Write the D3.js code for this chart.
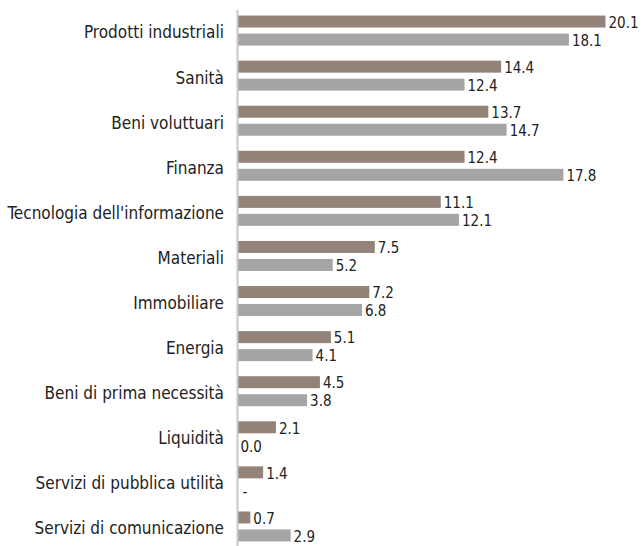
<!DOCTYPE html>
<html>
<head>
<meta charset="utf-8">
<script src="https://cdn.jsdelivr.net/npm/d3@7"></script>
<style>
  body { margin: 0; background: #fff; }
  svg text { font-family: "Liberation Sans Narrow", "DejaVu Sans Condensed", sans-serif; fill: #222; }
</style>
</head>
<body>
<div id="chart"></div>
<script>
const categories = [
    'Prodotti industriali', 'Sanità', 'Beni voluttuari', 'Finanza',
    "Tecnologia dell'informazione", 'Materiali', 'Immobiliare', 'Energia',
    'Beni di prima necessità', 'Liquidità', 'Servizi di pubblica utilità',
    'Servizi di comunicazione'
];
const seriesA = [20.1, 14.4, 13.7, 12.4, 11.1, 7.5, 7.2, 5.1, 4.5, 2.1, 1.4, 0.7];
const seriesB = [18.1, 12.4, 14.7, 17.8, 12.1, 5.2, 6.8, 4.1, 3.8, 0.0, null, 2.9];
const seriesKeys = ['a', 'b'];
const colors = { a: '#938378', b: '#a5a5a5' };

const width = 643, height = 546;
const margin = { top: 8, right: 20, bottom: 0, left: 237.5 };
const data = categories.map((c, i) => ({ cat: c, a: seriesA[i], b: seriesB[i] }));

const svg = d3.select('#chart').append('svg')
    .attr('width', width).attr('height', height);

const y = d3.scaleBand().domain(categories).range([margin.top, margin.top + 541]);
const yInner = d3.scaleBand().domain(seriesKeys).range([0, y.bandwidth()])
    .paddingInner(1 / 3).paddingOuter(0.42);
const x = d3.scaleLinear().domain([0, 20.1]).range([margin.left, 605.5]);

// category labels
svg.append('g').selectAll('text').data(categories).enter().append('text')
    .attr('x', 224)
    .attr('y', (d) => y(d) + y.bandwidth() / 2 + 2)
    .attr('dy', '0.35em')
    .attr('text-anchor', 'end')
    .style('font-size', '17px')
    .text((d) => d);

// bars
const groups = svg.append('g').selectAll('g').data(data).enter().append('g')
    .attr('transform', (d) => `translate(0,${y(d.cat)})`);

seriesKeys.forEach((k) => {
    groups.append('rect')
        .attr('x', x(0))
        .attr('y', yInner(k))
        .attr('height', yInner.bandwidth())
        .attr('width', (d) => (d[k] == null ? 0 : x(d[k]) - x(0)))
        .attr('fill', colors[k]);

    groups.append('text')
        .attr('x', (d) => (d[k] == null ? x(0) + 5 : x(d[k]) + 3))
        .attr('y', yInner(k) + yInner.bandwidth() / 2 + 1)
        .attr('dy', '0.35em')
        .style('font-size', '15px')
        .text((d) => (d[k] == null ? '-' : d[k].toFixed(1)));
});

// axis line
svg.append('line')
    .attr('x1', x(0)).attr('x2', x(0))
    .attr('y1', 10).attr('y2', height)
    .attr('stroke', '#c8c8c8').attr('stroke-width', 2);
</script>
</body>
</html>
